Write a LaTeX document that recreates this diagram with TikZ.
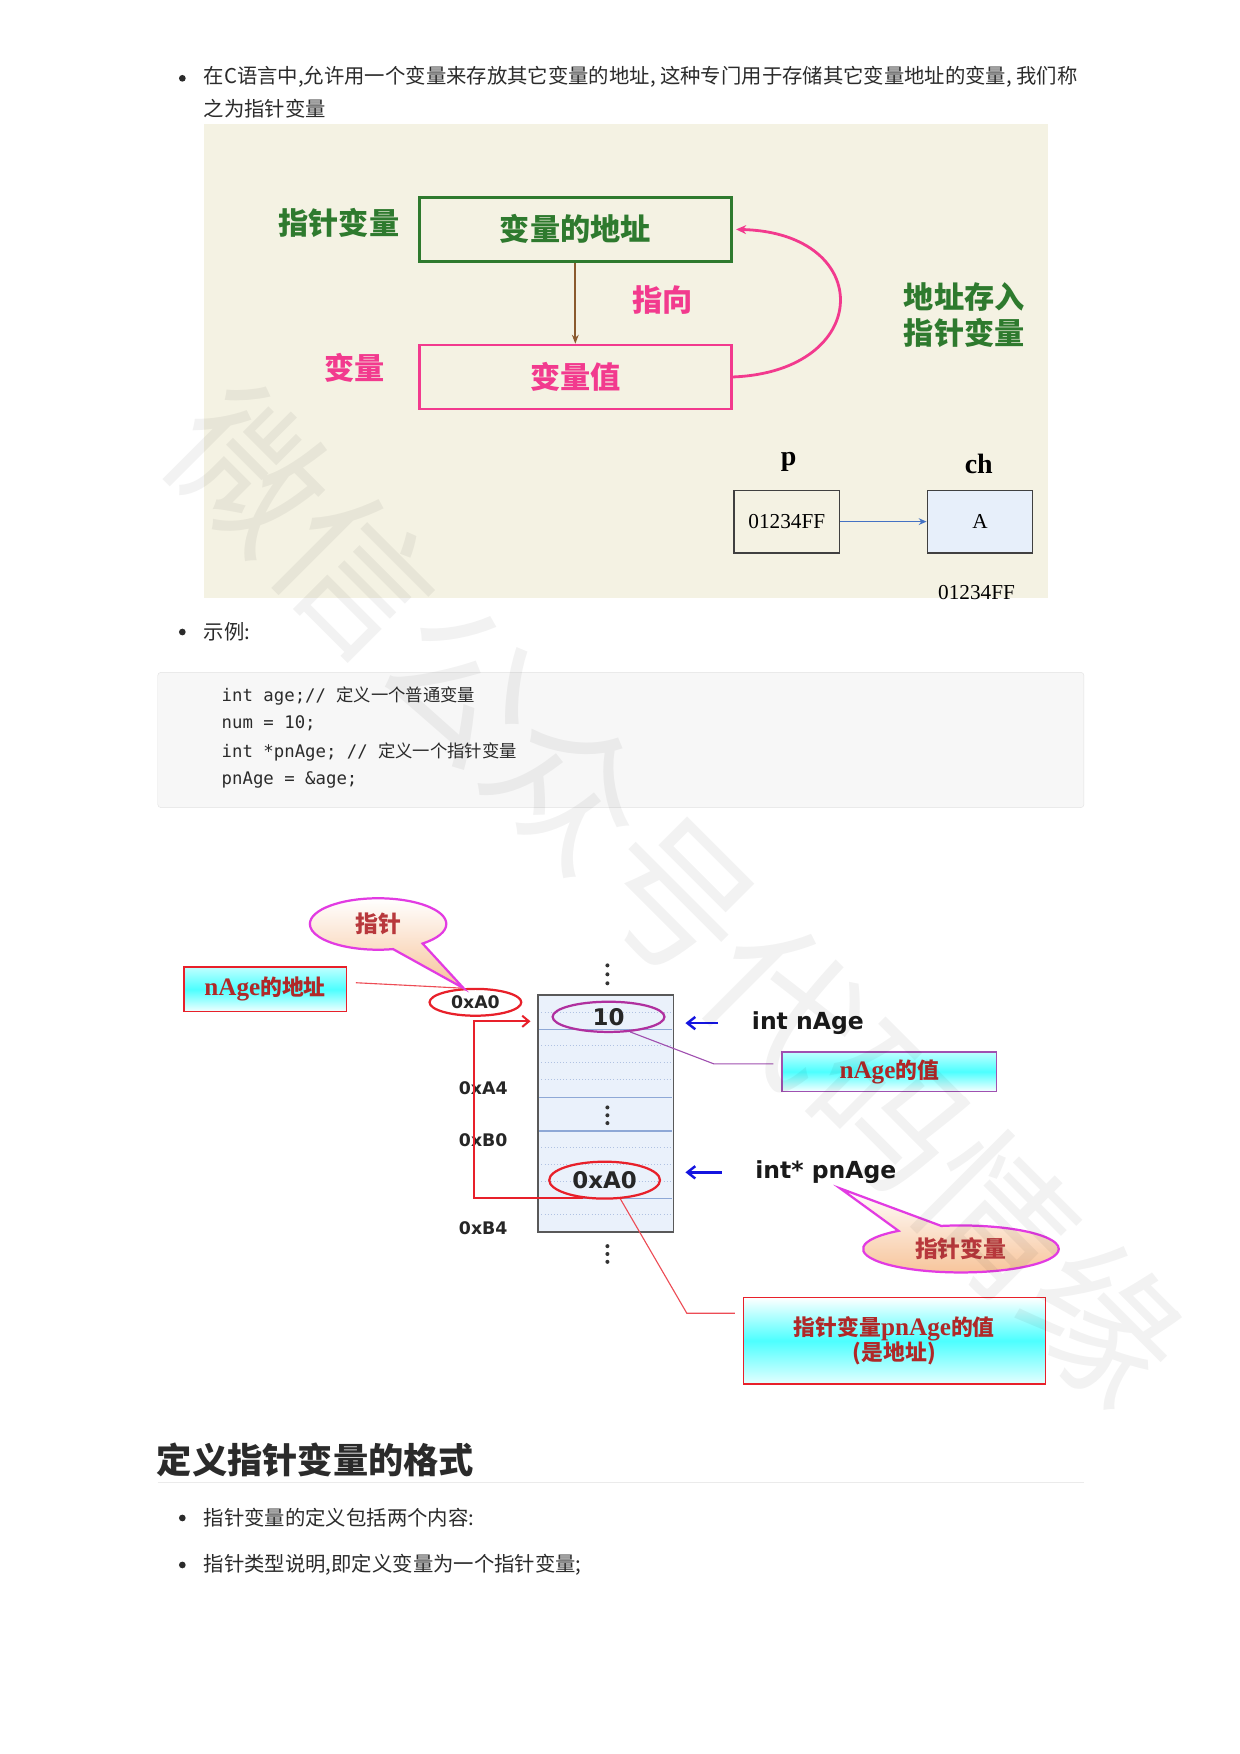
\documentclass[tikz,border=0pt]{standalone}
\usepackage{fontspec}
\setmainfont{Noto Sans CJK SC}
\setmonofont{DejaVu Sans Mono}
\newfontfamily\cjk{Noto Sans CJK SC}
\newfontfamily\serifrm{Liberation Serif}
\newfontfamily\verdana{DejaVu Sans}
\usetikzlibrary{shapes.geometric,shapes.callouts,arrows.meta,positioning}

\definecolor{textgray}{HTML}{2B2B2B}
\definecolor{cream}{HTML}{F4F2E3}
\definecolor{ptrgreen}{HTML}{2E7A2E}
\definecolor{valpink}{HTML}{F23A8E}
\definecolor{arrbrown}{HTML}{8A5A2E}
\definecolor{linkblue}{HTML}{4472C4}
\definecolor{cellblue}{HTML}{E7EFFA}
\definecolor{codebg}{HTML}{F7F7F7}
\definecolor{codeborder}{HTML}{E3E3E3}
\definecolor{membg}{HTML}{EAF1FB}
\definecolor{memline}{HTML}{8EA8D6}
\definecolor{ellred}{HTML}{E8202A}
\definecolor{ellpurple}{HTML}{B0309F}
\definecolor{boxpurple}{HTML}{A050B0}
\definecolor{darkred}{HTML}{B02828}
\definecolor{callred}{HTML}{B8383C}
\definecolor{callmag}{HTML}{E23BE2}
\definecolor{peach}{HTML}{F7C398}
\definecolor{ptrblue}{HTML}{1414E0}

\begin{document}
\begin{tikzpicture}[x=1pt,y=-1pt,
  bullet/.style={circle,fill=textgray,inner sep=0pt,minimum size=6pt},
  bodytext/.style={anchor=west,inner sep=0pt,text=textgray,font=\fontsize{18.2}{22}\selectfont},
  codetext/.style={anchor=west,inner sep=0pt,text=textgray,font=\ttfamily\fontsize{15.5}{19}\selectfont},
  topbox/.style={draw,line width=2.4pt,minimum width=279pt,minimum height=57pt,font=\bfseries\fontsize{27}{32}\selectfont},
  toplabel/.style={inner sep=0pt,font=\bfseries\fontsize{27}{32}\selectfont},
  cellbox/.style={draw=black!75,line width=1.4pt,minimum width=94pt,minimum height=56pt,font=\serifrm\fontsize{19}{22}\selectfont},
  cyanbox/.style={draw=ellred,line width=1.2pt,top color=cyan!25,bottom color=cyan!4,middle color=cyan!70,
    text=darkred,align=center,font=\bfseries\fontsize{19.5}{25}\selectfont},
  peachcall/.style={ellipse callout,draw=callmag,line width=2pt,top color=white,bottom color=peach,
    callout pointer arc=28,inner sep=0pt,text=callred,font=\bfseries\fontsize{20.5}{24}\selectfont},
  hexlabel/.style={inner sep=0pt,text=black!85,font=\verdana\bfseries\fontsize{15.5}{18}\selectfont},
  hexbig/.style={ellipse,inner sep=0pt,line width=2pt,text=black!85,font=\verdana\bfseries\fontsize{20.5}{24}\selectfont},
  vartext/.style={anchor=west,inner sep=0pt,text=black!90,font=\verdana\bfseries\fontsize{21}{25}\selectfont},
  memrow/.style={memline,line width=1pt},
  memdots/.style={memline!70,dotted,line width=0.8pt},
  thinred/.style={ellred!80,line width=1pt},
  bluearrow/.style={ptrblue,line width=2.2pt,-{Straight Barb[length=7pt,width=11pt]}}
]
\useasboundingbox (0,0) rectangle (1108,1568);
\fill[white] (0,0) rectangle (1108,1568);

% first bullet
\node[bullet] (b1) at (163,70) {};
\node[bodytext] (t1) at (182,69) {在C语言中,允许用一个变量来存放其它变量的地址, 这种专门用于存储其它变量地址的变量, 我们称};
\node[bodytext] (t1b) at (182,97) {之为指针变量};

% picture: pointer and variable
\fill[cream] (182,111) rectangle (937,535);
\node[topbox,draw=ptrgreen,text=ptrgreen] (ptrvar) at (514.3,205) {变量的地址};
\node[topbox,draw=valpink,text=valpink] (varval) at (514.3,337) {变量值};
\node[toplabel,text=ptrgreen] (ptrlbl) at (303,199) {指针变量};
\node[toplabel,text=valpink] (varlbl) at (317,329) {变量};
\node[toplabel,text=valpink] (pointlbl) at (592.6,268.3) {指向};
\node[toplabel,text=ptrgreen,align=center,font=\bfseries\fontsize{27}{32}\selectfont] (storelbl) at (862,282) {地址存入\\指针变量};
\draw[arrbrown,line width=1.8pt,-{Stealth[length=8pt,width=6pt]}] (ptrvar) -- (varval);
\draw[valpink,line width=2.5pt,shorten >=3pt,-{Stealth[length=9pt,width=8pt]}]
  (varval.east) .. controls (781,332) and (783,208) .. (ptrvar.east);

\node[cellbox] (pbox) at (703.4,466.3) {01234FF};
\node[cellbox,fill=cellblue] (chbox) at (876,466.3) {A};
\node[font=\serifrm\bfseries\fontsize{25}{28}\selectfont] (plbl) at (705,413) {p};
\node[font=\serifrm\bfseries\fontsize{25}{28}\selectfont] (chlbl) at (875,414.4) {ch};
\node[font=\serifrm\fontsize{19}{22}\selectfont] (chaddr) at (873,530) {01234FF};
\draw[linkblue,line width=1.3pt,-{Stealth[length=7pt,width=6pt]}] (pbox) -- (chbox);

% example code
\node[bullet] (b2) at (163,565) {};
\node[bodytext] (t2) at (182,565) {示例:};
\draw[codeborder,fill=codebg,rounded corners=3pt] (141,601) rectangle (969,722);
\node[codetext] (code1) at (198,622) {int age;// {\cjk 定义一个普通变量}};
\node[codetext] (code2) at (198,647) {num = 10;};
\node[codetext] (code3) at (198,672) {int *pnAge; // {\cjk 定义一个指针变量}};
\node[codetext] (code4) at (198,697) {pnAge = \&age;};

% memory picture
\node[draw=black!65,fill=membg,line width=1.5pt,minimum width=121pt,minimum height=212pt] (mem) at (541.5,995.5) {};
\foreach \y in {905,935,950,965,1026,1041,1056,1086}
  \draw[memdots] (484,\y) -- (599,\y);
\foreach \y in {920.5,981,1011,1071.5}
  \draw[memrow] (482,\y) -- (601,\y);
\foreach \y in {863,871,879,990,997,1004,1114,1121,1128}
  \fill[black!80] (543,\y) circle (1.8);

\node[hexbig,draw=ellpurple,minimum width=100pt,minimum height=27pt] (valell) at (544,909) {10};
\node[hexbig,draw=ellred,minimum width=99pt,minimum height=33pt] (ptrell) at (540.5,1055) {0xA0};
\node[ellipse,draw=ellred,line width=2pt,minimum width=82pt,minimum height=24pt,hexlabel] (addrell) at (425,896) {0xA0};
\node[hexlabel] (a4) at (432,973) {0xA4};
\node[hexlabel] (b0) at (432,1019) {0xB0};
\node[hexlabel] (b4) at (432,1098) {0xB4};

\coordinate (bendtop) at (424,913);
\draw[ellred,line width=1.8pt,shorten >=6pt,-{Straight Barb[length=6pt,width=10pt]}]
  (ptrell.220) -| (bendtop) -- (mem.west |- bendtop);

\node[cyanbox,minimum width=145pt,minimum height=40pt] (addrbox) at (237,884.5) {{\serifrm\fontsize{22.5}{25}\selectfont nAge}的地址};
\draw[thinred,shorten <=8pt] (addrbox.5) -- (addrell.130);
\node[peachcall,minimum width=122pt,minimum height=46pt,callout absolute pointer={(addrell.130)}] (ptrcall) at (338,826) {指针};

\node[vartext] (nage) at (672,914.6) {int nAge};
\node[vartext] (pnage) at (675,1048) {int* pnAge};
\draw[bluearrow,shorten <=30pt,shorten >=10pt] (nage.west) -- (mem.east |- nage.west);
\draw[bluearrow,shorten <=30pt,shorten >=10pt] (pnage.west) -- (mem.east |- pnage.west);

\node[cyanbox,draw=boxpurple,minimum width=192pt,minimum height=35pt] (nagebox) at (795,958) {{\serifrm\fontsize{22.5}{25}\selectfont nAge}的值};
\coordinate (valknee) at (638,951);
\draw[boxpurple,line width=1pt,shorten >=7pt] (valell.-35) -- (valknee) -- (nagebox.west |- valknee);

\node[peachcall,minimum width=175pt,minimum height=42pt,callout absolute pointer={([xshift=13pt,yshift=-4pt]pnage.south)}] (varcall) at (859,1116.5) {指针变量};

\node[draw=ellred,line width=1.2pt,top color=white,bottom color=cyan!10,middle color=cyan!70,
  text=darkred,align=center,font=\bfseries\fontsize{19.5}{25}\selectfont,
  minimum width=270pt,minimum height=77.5pt] (pvalbox) at (799.5,1198.5)
  {指针变量{\serifrm\fontsize{22.5}{25}\selectfont pnAge}的值\\[-2pt](是地址)};
\coordinate (ptrknee) at (614,1174);
\draw[thinred,shorten >=7pt] (ptrell.-50) -- (ptrknee) -- (pvalbox.west |- ptrknee);

% section heading
\node[anchor=west,inner sep=0pt,text=textgray,font=\bfseries\fontsize{31.5}{36}\selectfont] (title) at (140,1305) {定义指针变量的格式};
\draw[black!8,line width=1.2pt] (141,1325) -- (969,1325);
\node[bullet] (b3) at (163,1357) {};
\node[bodytext] (t3) at (182,1357) {指针变量的定义包括两个内容:};
\node[bullet] (b4) at (163,1399) {};
\node[bodytext] (t4) at (182,1399) {指针类型说明,即定义变量为一个指针变量;};

% watermark
\node[rotate=-45,inner sep=0pt,text=black,text opacity=0.05,font=\fontsize{135}{135}\selectfont] (wm) at (605,800) {微信公众号代码情缘};
\end{tikzpicture}
\end{document}
